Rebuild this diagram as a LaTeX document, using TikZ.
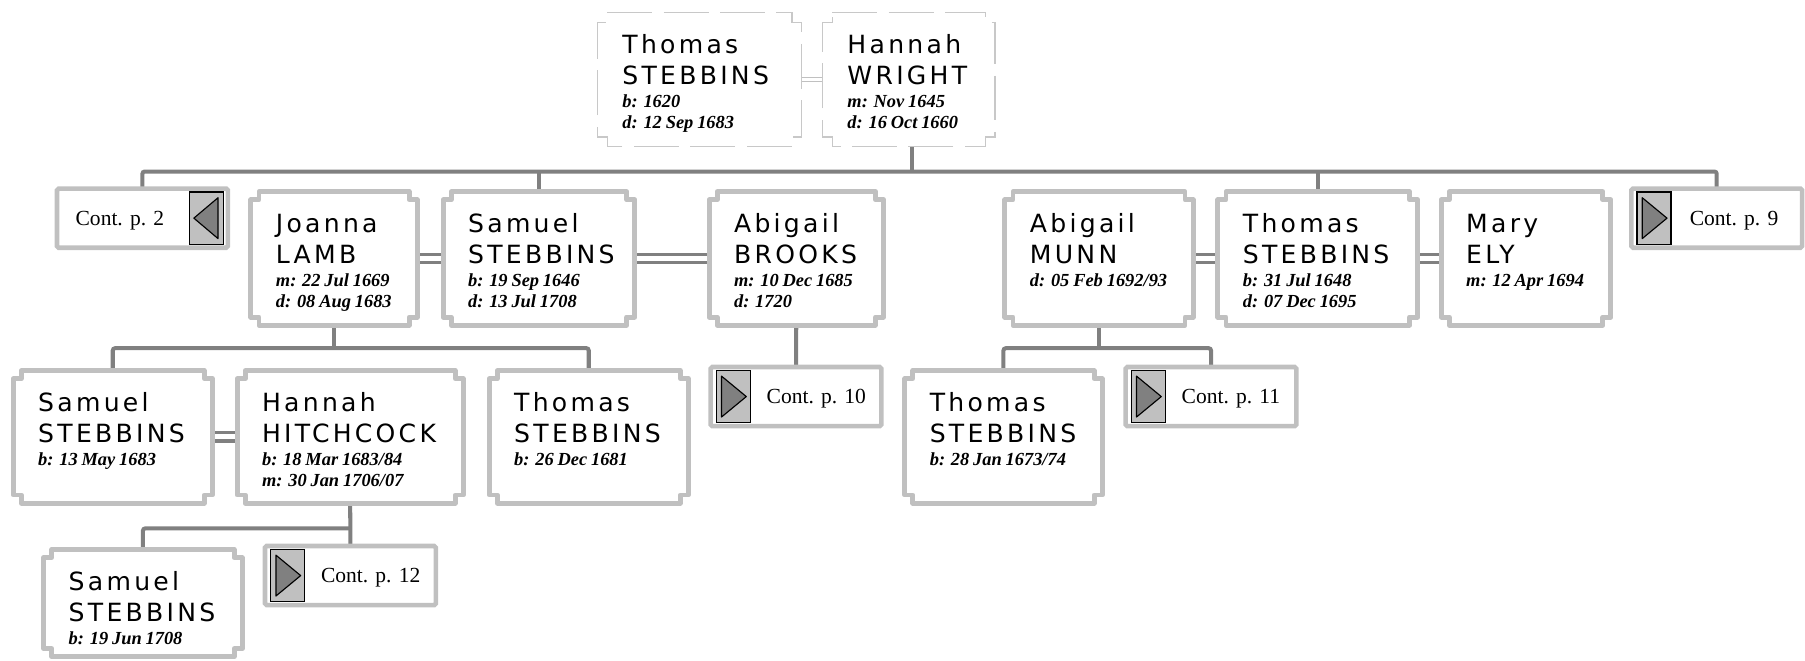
\documentclass[tikz,border=0pt]{standalone}
\usepackage{fontspec}
\usepackage{xcolor}
\usetikzlibrary{calc}

\newfontfamily\namefont[LetterSpace=13]{DejaVu Sans}
\newfontfamily\datefont{Liberation Serif}

\definecolor{boxgray}{HTML}{C0C0C0}
\definecolor{linkgray}{HTML}{808080}
\definecolor{dashgray}{HTML}{C8C8C8}

\newcommand{\who}[4]{%
  {\namefont\fontsize{21.8}{27}\selectfont #1\par #2\par}%
  {\datefont\bfseries\itshape\fontsize{16}{20}\selectfont #3\par}%
  {\datefont\bfseries\itshape\fontsize{16}{18.2}\selectfont #4\par}}

\newcommand{\notchbox}[3]{%
  \draw [#1] ($(#2.north west)+(#3,0pt)$) -- ($(#2.north east)+(-#3,0pt)$)
    -- ++(0pt,-#3) -- ++(#3,0pt) -- ($(#2.south east)+(0pt,#3)$)
    -- ++(-#3,0pt) -- ++(0pt,-#3) -- ($(#2.south west)+(#3,0pt)$)
    -- ++(0pt,#3) -- ++(-#3,0pt) -- ($(#2.north west)+(0pt,-#3)$)
    -- ++(#3,0pt) -- cycle;}

\tikzset{
  person/.style={anchor=north west, inner xsep=21.5pt, inner ysep=0pt, align=left, text height=35pt},
  contbox/.style={minimum width=148pt, minimum height=51pt, inner sep=0pt},
  contlabel/.style={anchor=base west, inner sep=0pt, font=\datefont\fontsize{18.7}{22}\selectfont},
  arrowbox/.style={draw=black, line width=1pt, fill=boxgray, minimum width=29.5pt, minimum height=45.5pt, inner sep=0pt},
  arrowtip/.style={draw=black, line width=1pt, fill=linkgray, line join=round},
  boxline/.style={draw=boxgray, line width=4.3pt, line join=round},
  dashline/.style={draw=dashgray, line width=1.1pt, dash pattern=on 39pt off 10pt},
  contline/.style={draw=boxgray, line width=4pt, rounded corners=1.5pt},
  link/.style={draw=linkgray, line width=3.5pt, rounded corners=2pt},
  wed/.style={draw=linkgray, line width=2.9pt, double=white, double distance=4.4pt},
  thinwed/.style={draw=boxgray, line width=0.9pt, double=white, double distance=2.6pt}
}

\begin{document}
\begin{tikzpicture}[x=1pt, y=-1pt]
        \useasboundingbox (0, 0) rectangle (1568, 574);

        \node [person, text width=134pt, text depth=81pt] (thomasS) at (519, 11) {\who{Thomas}{STEBBINS}{b: 1620}{d: 12 Sep 1683}};
        \node [person, text width=106.5pt, text depth=81pt] (hannahW) at (714.5, 11) {\who{Hannah}{WRIGHT}{m: Nov 1645}{d: 16 Oct 1660}};

        \node [person, text width=101pt, text depth=80.5pt] (joannaL) at (218, 166.5) {\who{Joanna}{LAMB}{m: 22 Jul 1669}{d: 08 Aug 1683}};
        \node [person, text width=123pt, text depth=80.5pt] (samuelS) at (385, 166.5) {\who{Samuel}{STEBBINS}{b: 19 Sep 1646}{d: 13 Jul 1708}};
        \node [person, text width=108pt, text depth=80.5pt] (abigailB) at (616, 166.5) {\who{Abigail}{BROOKS}{m: 10 Dec 1685}{d: 1720}};
        \node [person, text width=120pt, text depth=80.5pt] (abigailM) at (873, 166.5) {\who{Abigail}{MUNN}{d: 05 Feb 1692/93}{}};
        \node [person, text width=130pt, text depth=80.5pt] (thomasS2) at (1058, 166.5) {\who{Thomas}{STEBBINS}{b: 31 Jul 1648}{d: 07 Dec 1695}};
        \node [person, text width=104pt, text depth=80.5pt] (maryE) at (1252, 166.5) {\who{Mary}{ELY}{m: 12 Apr 1694}{}};

        \node [person, text width=129.5pt, text depth=79.6pt] (samuelS3) at (11.5, 322) {\who{Samuel}{STEBBINS}{b: 13 May 1683}{}};
        \node [person, text width=153pt, text depth=79.6pt] (hannahH) at (206, 322) {\who{Hannah}{HITCHCOCK}{b: 18 Mar 1683/84}{m: 30 Jan 1706/07}};
        \node [person, text width=129.5pt, text depth=79.6pt] (thomasS4) at (425, 322) {\who{Thomas}{STEBBINS}{b: 26 Dec 1681}{}};
        \node [person, text width=128pt, text depth=79.6pt] (thomasS5) at (786, 322) {\who{Thomas}{STEBBINS}{b: 28 Jan 1673/74}{}};

        \node [person, text width=129pt, text depth=57.5pt] (samuelS6) at (38, 477.5) {\who{Samuel}{STEBBINS}{b: 19 Jun 1708}{}};

        \node [contbox] (cont2) at (123.7, 189.5) {};
        \node [contbox] (cont9) at (1491.3, 189.5) {};
        \node [contbox] (cont10) at (691.5, 344.5) {};
        \node [contbox] (cont11) at (1052, 344.5) {};
        \node [contbox] (cont12) at (304.4, 500) {};

        \node [contlabel] (cont2-label) at ([xshift=16pt, yshift=-6.2pt]cont2.west) {Cont. p. 2};
        \node [contlabel] (cont9-label) at ([xshift=50.6pt, yshift=-6.2pt]cont9.west) {Cont. p. 9};
        \node [contlabel] (cont10-label) at ([xshift=48.5pt, yshift=-6.2pt]cont10.west) {Cont. p. 10};
        \node [contlabel] (cont11-label) at ([xshift=48.5pt, yshift=-6.2pt]cont11.west) {Cont. p. 11};
        \node [contlabel] (cont12-label) at ([xshift=48.5pt, yshift=-6.2pt]cont12.west) {Cont. p. 12};

        \coordinate (bus1) at (792, 149);
        \coordinate (bus2) at (0, 302.5);
        \coordinate (bus3) at (0, 459);

        \draw [link] (bus1 |- hannahW.south) -- (bus1);
        \draw [link] (cont2.north) |- (cont9.north |- bus1) -- (cont9.north);
        \draw [link] (samuelS.north) -- (samuelS.north |- bus1);
        \draw [link] (thomasS2.north) -- (thomasS2.north |- bus1);

        \draw [link] (joannaL.south) -- (joannaL.south |- bus2);
        \draw [link] (samuelS3.north) |- (thomasS4.north |- bus2) -- (thomasS4.north);
        \draw [link] (abigailB.south) -- (cont10.north);
        \draw [link] (abigailM.south) -- (abigailM.south |- bus2);
        \draw [link] (thomasS5.north) |- (cont11.north |- bus2) -- (cont11.north);

        \draw [link] (hannahH.south) -- (cont12.north);
        \draw [link] (samuelS6.north) |- (hannahH.south |- bus3);

        \draw [thinwed] (thomasS.east) -- (hannahW.west);
        \draw [wed] (joannaL.east) -- (samuelS.west);
        \draw [wed] (samuelS.east) -- (abigailB.west);
        \draw [wed] (abigailM.east) -- (thomasS2.west);
        \draw [wed] (thomasS2.east) -- (maryE.west);
        \draw [wed] (samuelS3.east) -- (hannahH.west);

        \notchbox{dashline}{thomasS}{8.5pt}
        \notchbox{dashline}{hannahW}{8.5pt}
        \foreach \p in {joannaL, samuelS, abigailB, abigailM, thomasS2, maryE, samuelS3, hannahH, thomasS4, thomasS5, samuelS6}
          {\notchbox{boxline}{\p}{7pt}}

        \foreach \c in {cont2, cont9, cont10, cont11, cont12}
          \draw [contline] (\c.north west) rectangle (\c.south east);

        \node [arrowbox, anchor=east] (cont2-arrow) at ([xshift=-3.5pt]cont2.east) {};
        \node [arrowbox, anchor=west] (cont9-arrow) at ([xshift=4.5pt]cont9.west) {};
        \node [arrowbox, anchor=west] (cont10-arrow) at ([xshift=4.5pt]cont10.west) {};
        \node [arrowbox, anchor=west] (cont11-arrow) at ([xshift=4.5pt]cont11.west) {};
        \node [arrowbox, anchor=west] (cont12-arrow) at ([xshift=4.5pt]cont12.west) {};

        \draw [arrowtip] ([xshift=-5pt, yshift=-5.5pt]cont2-arrow.north east) -- ([xshift=4.5pt]cont2-arrow.west)
          -- ([xshift=-5pt, yshift=5.5pt]cont2-arrow.south east) -- cycle;
        \foreach \arr in {cont9-arrow, cont10-arrow, cont11-arrow, cont12-arrow}
          \draw [arrowtip] ([xshift=5pt, yshift=-5.5pt]\arr.north west) -- ([xshift=-4pt]\arr.east)
            -- ([xshift=5pt, yshift=5.5pt]\arr.south west) -- cycle;
      \end{tikzpicture}
\end{document}
